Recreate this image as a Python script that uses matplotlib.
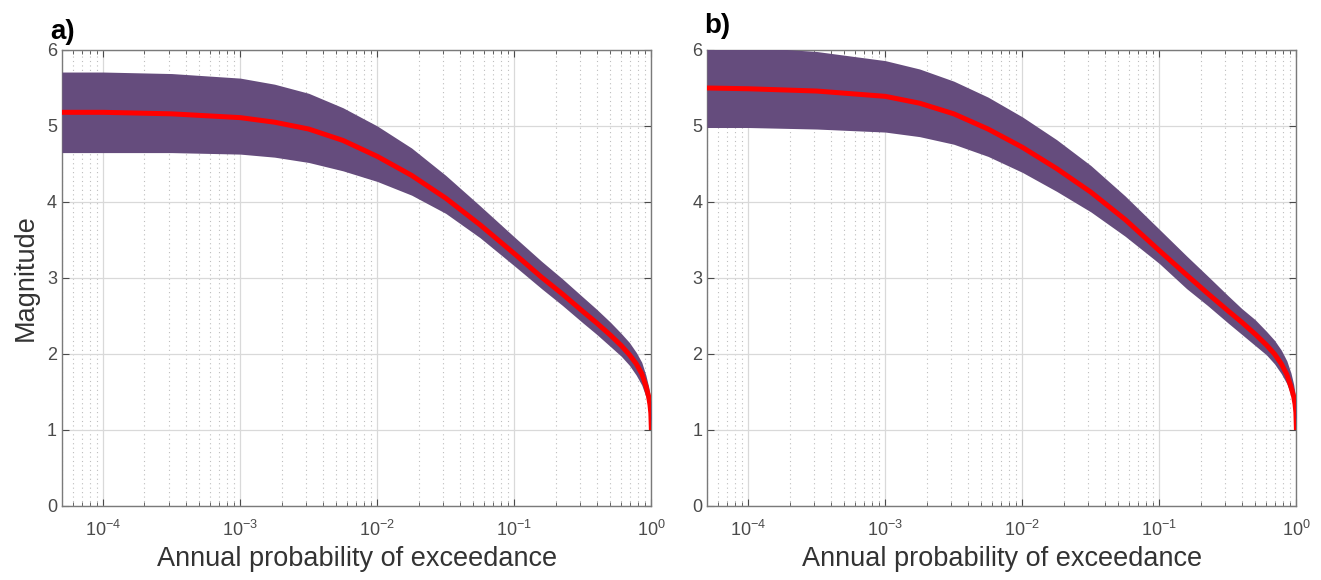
import matplotlib
matplotlib.use('Agg')
import matplotlib.pyplot as plt
import numpy as np
from matplotlib.ticker import LogLocator, NullFormatter, LogFormatterSciNotation

plt.rcParams['font.family'] = ['Liberation Sans', 'DejaVu Sans']
plt.rcParams['mathtext.fontset'] = 'custom'
plt.rcParams['mathtext.rm'] = 'Liberation Sans'
plt.rcParams['mathtext.it'] = 'Liberation Sans:italic'
plt.rcParams['axes.unicode_minus'] = False

# annual probability of exceedance (x), shared by both panels
prob = [5e-5, 1e-4, 3.16e-4, 1e-3, 1.78e-3, 3.16e-3, 5.62e-3, 1e-2, 1.78e-2,
        3.16e-2, 5.62e-2, 0.1, 0.158, 0.224, 0.316, 0.398, 0.501, 0.603,
        0.692, 0.776, 0.851, 0.912, 0.955, 0.977, 0.991, 1.0]

# panel a) magnitude: lower bound, median, upper bound
a_lower = [4.65, 4.65, 4.65, 4.63, 4.59, 4.52, 4.41, 4.27, 4.09, 3.85, 3.53,
           3.16, 2.86, 2.64, 2.41, 2.26, 2.10, 1.97, 1.85, 1.72, 1.59, 1.44,
           1.31, 1.21, 1.12, 1.0]
a_median = [5.18, 5.18, 5.16, 5.11, 5.05, 4.96, 4.81, 4.60, 4.35, 4.05, 3.70,
            3.32, 3.01, 2.79, 2.56, 2.41, 2.25, 2.11, 1.99, 1.87, 1.74, 1.58,
            1.44, 1.33, 1.22, 1.0]
a_upper = [5.71, 5.71, 5.69, 5.63, 5.55, 5.43, 5.24, 5.00, 4.71, 4.35, 3.95,
           3.54, 3.22, 2.99, 2.75, 2.59, 2.42, 2.27, 2.15, 2.02, 1.89, 1.72,
           1.57, 1.46, 1.37, 1.0]

# panel b)
b_lower = [4.98, 4.98, 4.96, 4.92, 4.86, 4.76, 4.60, 4.39, 4.14, 3.87, 3.55,
           3.19, 2.86, 2.64, 2.41, 2.26, 2.11, 1.99, 1.87, 1.74, 1.61, 1.46,
           1.33, 1.22, 1.13, 1.0]
b_median = [5.50, 5.49, 5.46, 5.39, 5.30, 5.16, 4.96, 4.72, 4.44, 4.13, 3.77,
            3.36, 3.04, 2.80, 2.57, 2.42, 2.26, 2.12, 2.00, 1.87, 1.73, 1.57,
            1.44, 1.34, 1.23, 1.0]
b_upper = [6.06, 6.04, 5.98, 5.86, 5.75, 5.59, 5.38, 5.12, 4.82, 4.48, 4.08,
           3.64, 3.29, 3.03, 2.77, 2.60, 2.45, 2.30, 2.18, 2.05, 1.91, 1.75,
           1.60, 1.48, 1.39, 1.0]

panels = [('a)', a_lower, a_median, a_upper), ('b)', b_lower, b_median, b_upper)]

band_col = '#654c7d'
axis_col = '#4a4a4a'

fig = plt.figure(figsize=(13.21, 5.8), dpi=100)
lefts = [0.0469, 0.5352]
tag_pos = [(-0.02, 1.012), (-0.004, 1.024)]

for i, (tag, lo, med, up) in enumerate(panels):
    ax = fig.add_axes([lefts[i], 0.1276, 0.4462, 0.7862])
    ax.fill_between(prob, lo, up, color=band_col, lw=0, zorder=2.6)
    ax.plot(prob, med, color='#ff0000', lw=3.6, zorder=3, solid_capstyle='butt')
    ax.set_xscale('log')
    ax.set_xlim(5e-5, 1)
    ax.set_ylim(0, 6)
    ax.set_yticks(range(7))
    ax.xaxis.set_major_locator(LogLocator(base=10, numticks=10))
    ax.xaxis.set_minor_locator(LogLocator(base=10, subs=np.arange(2, 10), numticks=20))
    ax.xaxis.set_minor_formatter(NullFormatter())
    ax.xaxis.set_major_formatter(LogFormatterSciNotation())
    ax.grid(True, which='major', color='#d9d9d9', lw=0.9, ls='-', zorder=0)
    ax.grid(True, which='minor', axis='x', color='#bdbdbd', lw=0.8, ls=(0, (1, 3)), zorder=0)
    ax.set_axisbelow(True)
    ax.tick_params(which='both', direction='in', top=True, right=True,
                   colors=axis_col, labelsize=13)
    ax.tick_params(which='major', length=5, width=0.8)
    ax.tick_params(which='minor', length=3, width=0.6)
    ax.tick_params(axis='x', pad=10)
    for s in ax.spines.values():
        s.set_color('#7a7a7a')
        s.set_linewidth(1.0)
    ax.set_xlabel('Annual probability of exceedance', fontsize=19.5, color='#333333', labelpad=4)
    if i == 0:
        ax.set_ylabel('Magnitude', fontsize=19.5, color='#333333', labelpad=6)
    tx, ty = tag_pos[i]
    ax.text(tx, ty, tag, transform=ax.transAxes, fontsize=20,
            fontweight='bold', ha='left', va='bottom', color='black')

fig.savefig('out.png', dpi=100)
